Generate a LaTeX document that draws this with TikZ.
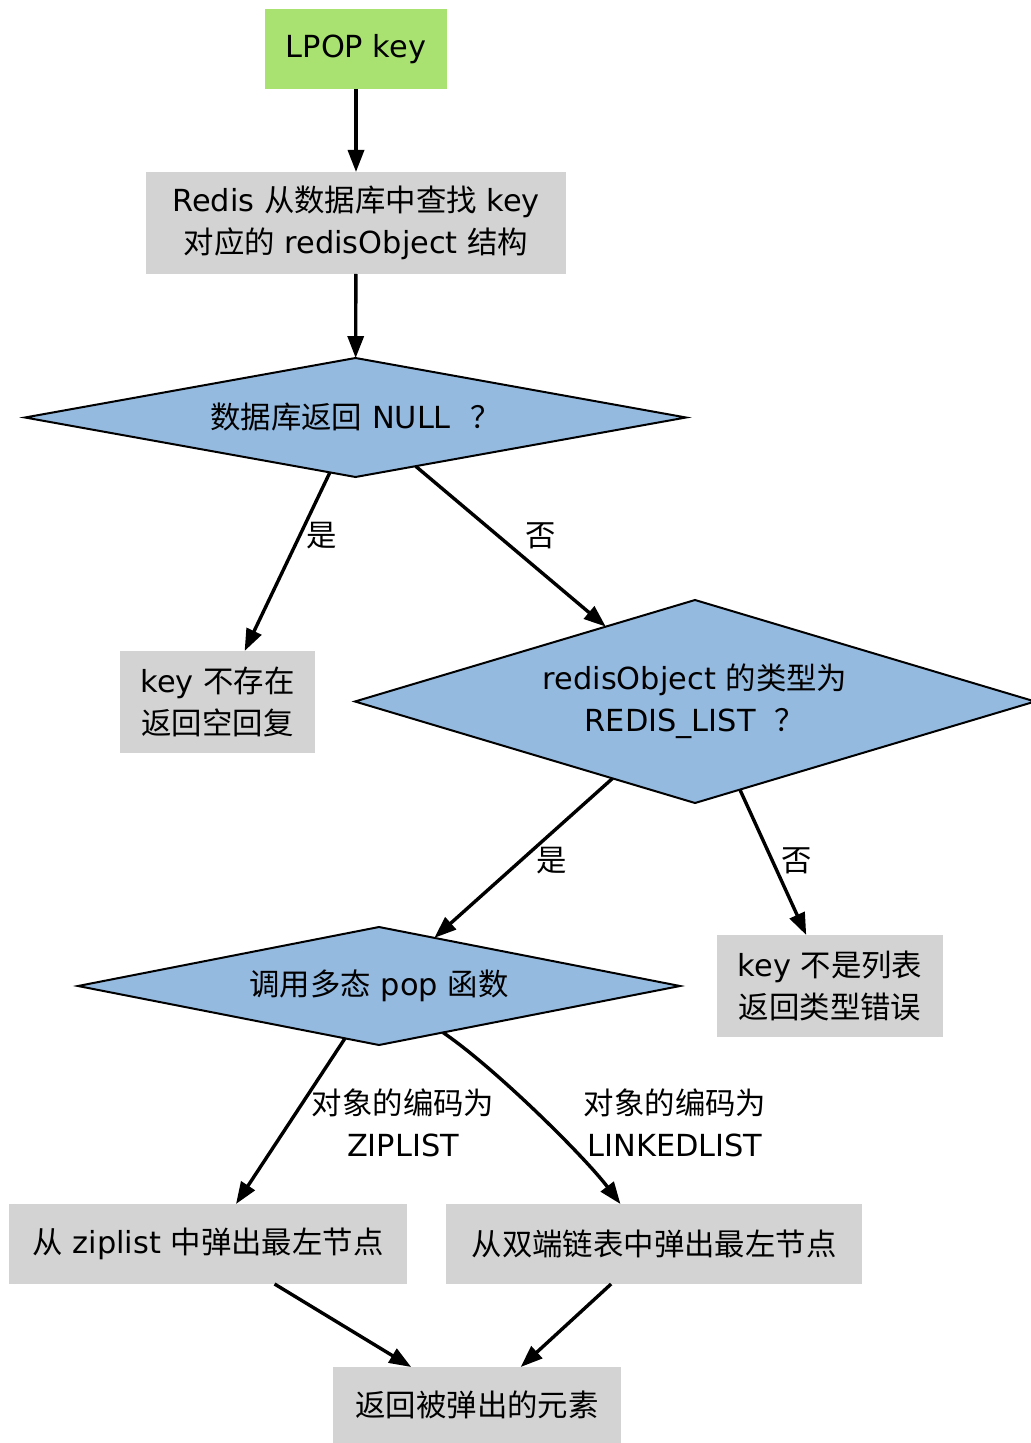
\documentclass[tikz,border=0pt]{standalone}
\usepackage{fontspec}
\setmainfont{DejaVu Sans}
\newfontfamily\cjk{Noto Sans CJK SC}
\usetikzlibrary{shapes.geometric,arrows.meta}
\definecolor{boxgray}{HTML}{D3D3D3}
\definecolor{startgreen}{HTML}{A9E270}
\definecolor{decblue}{HTML}{95BAE0}
\tikzset{
  base/.style={inner sep=0pt, outer sep=0pt, align=center},
  box/.style={base, rectangle, fill=boxgray},
  startbox/.style={base, rectangle, fill=startgreen},
  decision/.style={base, diamond, fill=decblue, draw=black, line width=1pt},
  flow/.style={line width=1.7pt, -{Triangle[length=11pt,width=8pt]}},
  lbl/.style={inner sep=0pt, align=center}
}
\begin{document}
\begin{tikzpicture}[x=0.5pt,y=-0.5pt,font=\fontsize{15.2}{21}\selectfont]
\useasboundingbox (0,0) rectangle (1031,1443);
\node[startbox, minimum width=91pt, minimum height=40pt] (start) at (356,49) {LPOP key};
\node[box, minimum width=210pt, minimum height=51pt] (redis) at (356,223) {Redis {\cjk 从数据库中查找} key\\ {\cjk 对应的} redisObject {\cjk 结构}};
\node[decision, aspect=5.555, minimum width=330.5pt, minimum height=59.5pt] (d1) at (355.5,417.5) {{\cjk 数据库返回} NULL \ {\cjk ？}};
\node[box, minimum width=97.5pt, minimum height=51pt] (keyn) at (217.5,702) {key {\cjk 不存在}\\{\cjk 返回空回复}};
\node[decision, aspect=3.35, minimum width=340pt, minimum height=101.5pt] (d2) at (695,701.5) {redisObject {\cjk 的类型为}\\REDIS\_LIST \ {\cjk ？}};
\node[decision, aspect=5.10, minimum width=301pt, minimum height=59pt] (pop) at (379,986) {{\cjk 调用多态} pop {\cjk 函数}};
\node[box, minimum width=113pt, minimum height=51pt] (keynl) at (830,986) {key {\cjk 不是列表}\\{\cjk 返回类型错误}};
\node[box, minimum width=199pt, minimum height=40pt] (zip) at (208,1244) {{\cjk 从} ziplist {\cjk 中弹出最左节点}};
\node[box, minimum width=208pt, minimum height=40pt] (dbl) at (654,1244) {{\cjk 从双端链表中弹出最左节点}};
\node[box, minimum width=144pt, minimum height=38pt] (ret) at (477,1405) {{\cjk 返回被弹出的元素}};

\node[lbl] (l1) at (322,536) {{\cjk 是}};
\node[lbl] (l2) at (541,536) {{\cjk 否}};
\node[lbl] (l3) at (552,861) {{\cjk 是}};
\node[lbl] (l4) at (797,861) {{\cjk 否}};
\node[lbl] (l5) at (403,1123) {{\cjk 对象的编码为}\\ZIPLIST};
\node[lbl] (l6) at (675,1123) {{\cjk 对象的编码为}\\LINKEDLIST};

\draw[flow] (start) -- (redis);
\draw[flow] (redis) -- (d1);
\draw[flow] (d1.-115.7) -- (keyn.62);
\draw[flow] (d1.-39.8) -- (d2.140);
\draw[flow] (d2.-137.8) -- (pop.41.7);
\draw[flow] (d2.-63.9) -- (keynl.115.6);
\draw[flow] (pop.-123.7) -- (zip.55);
\draw[flow] (pop.-36) .. controls (495,1068) and (584,1156) .. (dbl.130.4);
\draw[flow] (zip.-31.5) -- (ret.150);
\draw[flow] (dbl.-137.7) -- (ret.41);
\end{tikzpicture}
\end{document}
